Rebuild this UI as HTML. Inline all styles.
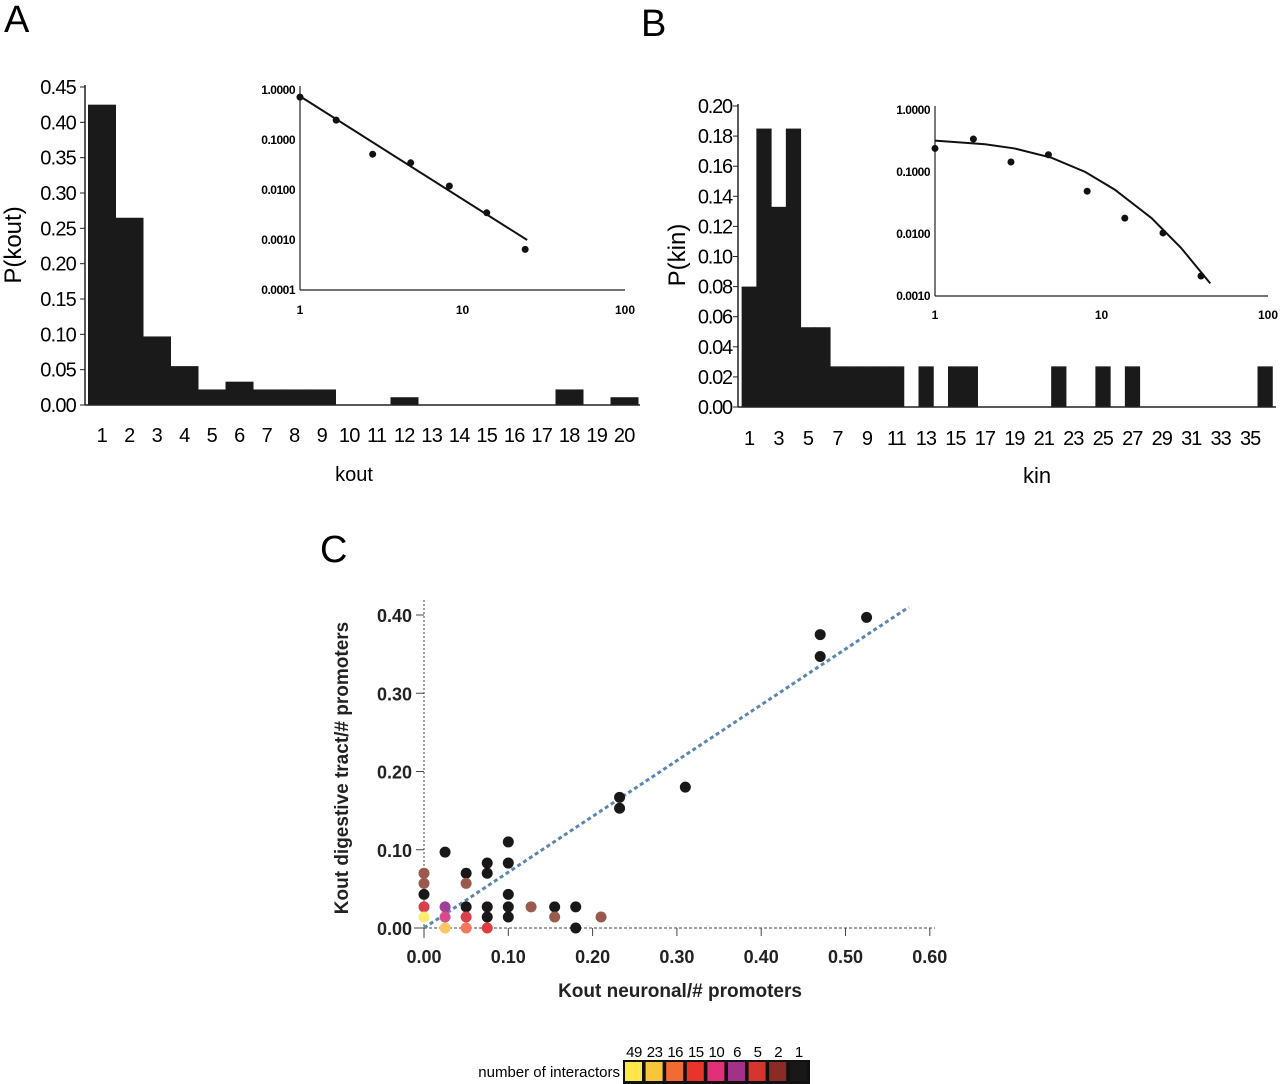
<!DOCTYPE html>
<html><head><meta charset="utf-8"><style>
html,body{margin:0;padding:0;background:#fff;}
svg{display:block;font-family:"Liberation Sans",Arial,sans-serif;}
</style></head><body>
<svg id="fig" width="1280" height="1084" viewBox="0 0 1280 1084" xmlns="http://www.w3.org/2000/svg">
<text x="4" y="32" font-size="38">A</text>
<text x="641" y="36" font-size="38">B</text>
<text x="320" y="562" font-size="38">C</text>
<g id="gA"></g>
<g id="gAi"></g>
<g id="gB"></g>
<g id="gBi"></g>
<g id="gC"></g>
<g id="gL"></g>
</svg>
<script>
// ---- data ----
const koutBins = [1,2,3,4,5,6,7,8,9,10,11,12,13,14,15,16,17,18,19,20];
const koutP = [0.425,0.265,0.097,0.055,0.022,0.033,0.022,0.022,0.022,0,0,0.011,0,0,0,0,0,0.022,0,0.011];
const koutTicks = [0,0.05,0.10,0.15,0.20,0.25,0.30,0.35,0.40,0.45];
const insetAx = [1,1.67,2.8,4.8,8.3,14.1,24.3];
const insetAy = [0.72,0.25,0.052,0.035,0.012,0.0035,0.00065];
const insetAfitX = [1,25];
const insetAfitY = [0.75,0.001];
const kinP = [0.08,0.185,0.133,0.185,0.053,0.053,0.027,0.027,0.027,0.027,0.027,0,0.027,0,0.027,0.027,0,0,0,0,0,0.027,0,0,0.027,0,0.027,0,0,0,0,0,0,0,0,0.027];
const kinTicksY = [0,0.02,0.04,0.06,0.08,0.10,0.12,0.14,0.16,0.18,0.20];
const kinLabels = [1,3,5,7,9,11,13,15,17,19,21,23,25,27,29,31,33,35];
const insetBx = [1,1.7,2.86,4.8,8.2,13.8,23.4,39.6];
const insetBy = [0.24,0.34,0.145,0.19,0.049,0.018,0.0104,0.0021];
const insetBfitX = [1,2,3,5,8,12,20,30,45];
const insetBfitY = [0.32,0.28,0.24,0.17,0.1,0.052,0.018,0.006,0.0016];
const scX = [0.525,0.47,0.47,0.31,0.232,0.232,0.1,0.1,0.1,0.1,0.1,0.075,0.075,0.075,0.075,0.075,0.05,0.05,0.05,0.05,0.05,0.025,0.025,0.025,0.025,0,0,0,0,0,0.127,0.155,0.155,0.18,0.18,0.21];
const scY = [0.397,0.375,0.347,0.18,0.167,0.153,0.11,0.083,0.043,0.027,0.014,0.083,0.07,0.027,0.014,0,0.07,0.057,0.027,0.014,0,0.097,0.027,0.014,0,0.07,0.057,0.043,0.027,0.014,0.027,0.027,0.014,0.027,0,0.014];
const scN = [1,1,1,1,1,1,1,1,1,1,1,1,1,1,1,15,1,2,1,5,16,1,6,10,23,2,2,1,5,49,2,1,2,1,1,2];
const legendN = [49,23,16,15,10,6,5,2,1];
const legendColors = ["#fde64b","#f9c53a","#f26b32","#e8342b","#e12f78","#a3318a","#d4362f","#8a2c25","#1a1718"];
const pointColors = ["#fbeb70","#fbc865","#f4775a","#e33a3f","#d84a8c","#a0409a","#d8404a","#9b5a4e","#1a1718"];
const fitX = [0,0.575];
const fitY = [0,0.41];
const cTicksX = [0,0.1,0.2,0.3,0.4,0.5,0.6];
const cTicksY = [0,0.1,0.2,0.3,0.4];
// ---- helpers ----
const NS="http://www.w3.org/2000/svg";
function mk(p,t,a,txt){const e=document.createElementNS(NS,t);for(const k in a)e.setAttribute(k,a[k]);if(txt!==undefined)e.textContent=txt;p.appendChild(e);return e;}
// ---- Panel A ----
(function(){
 const g=document.getElementById('gA');
 const x0=88,bw=27.5,yA=v=>405-v*(318/0.45);
 koutP.forEach((v,i)=>{const b=mk(g,'rect',{x:x0+i*bw,y:yA(v),width:bw+0.5,height:405-yA(v),fill:'#1a1a1a'});
 
 });
 mk(g,'line',{x1:85,y1:85,x2:85,y2:405,stroke:'#222','stroke-width':1.5});
 mk(g,'line',{x1:85,y1:405,x2:640,y2:405,stroke:'#222','stroke-width':1.5});
 koutTicks.forEach(t=>{mk(g,'line',{x1:80,x2:85,y1:yA(t),y2:yA(t),stroke:'#222'});
  const l=mk(g,'text',{x:76,y:yA(t)+7,'font-size':20,'text-anchor':'end','letter-spacing':'-0.8'},t.toFixed(2));
  
  });
 koutBins.forEach((b,i)=>{const l=mk(g,'text',{x:x0+i*bw+bw/2,y:442,'font-size':20,'text-anchor':'middle','letter-spacing':'-0.8'},b);
  
  });
 const xt=mk(g,'text',{x:354,y:481,'font-size':20,'text-anchor':'middle'},'kout');
 
 const yt=mk(g,'text',{x:0,y:0,'font-size':24,'text-anchor':'middle',transform:'translate(21,245) rotate(-90)'},'P(kout)');
 
})();
function logInset(g,px0,px1,py0,yDec,yLabels,xs,ys,fx,fy,labelY){
 const X=v=>px0+Math.log10(v)*(px1-px0)/2, Y=v=>py0-Math.log10(v)*yDec;
 const yBottom=Y(yLabels[yLabels.length-1]);
 mk(g,'line',{x1:px0,y1:py0-4,x2:px0,y2:yBottom,stroke:'#222','stroke-width':1.2});
 mk(g,'line',{x1:px0,y1:yBottom,x2:px1,y2:yBottom,stroke:'#222','stroke-width':1.2});
 yLabels.forEach(v=>{mk(g,'text',{x:px0-5,y:Y(v)+4,'font-size':12,'text-anchor':'end','font-weight':'bold','letter-spacing':'-0.5'},v.toFixed(4));});
 [1,10,100].forEach(v=>{mk(g,'text',{x:X(v),y:labelY,'font-size':12,'text-anchor':'middle','font-weight':'bold'},v);});
 let d='';fx.forEach((v,i)=>{d+=(i?'L':'M')+X(v)+','+Y(fy[i]);});
 mk(g,'path',{d:d,fill:'none',stroke:'#111','stroke-width':2});
 xs.forEach((v,i)=>{const c=mk(g,'circle',{cx:X(v),cy:Y(ys[i]),r:3.5,fill:'#111'});
  
  });
}
logInset(document.getElementById('gAi'),300,625,90,50,[1,0.1,0.01,0.001,0.0001],insetAx,insetAy,insetAfitX,insetAfitY,314);
// ---- Panel B ----
(function(){
 const g=document.getElementById('gB');
 const bw=14.74,cx=i=>749+i*bw,yB=v=>407-v*(301/0.2);
 kinP.forEach((v,i)=>{const b=mk(g,'rect',{x:cx(i)-bw/2,y:yB(v),width:bw+0.5,height:407-yB(v),fill:'#1a1a1a'});
 
 });
 mk(g,'line',{x1:738,y1:104,x2:738,y2:407,stroke:'#222','stroke-width':1.5});
 mk(g,'line',{x1:738,y1:407,x2:1276,y2:407,stroke:'#222','stroke-width':1.5});
 kinTicksY.forEach(t=>{mk(g,'line',{x1:733,x2:738,y1:yB(t),y2:yB(t),stroke:'#222'});
  const l=mk(g,'text',{x:732,y:yB(t)+7,'font-size':20,'text-anchor':'end','letter-spacing':'-1.2'},t.toFixed(2));
  
  });
 kinLabels.forEach(b=>{const l=mk(g,'text',{x:cx(b-1),y:445,'font-size':20,'text-anchor':'middle','letter-spacing':'-1'},b);
  
  });
 const xt=mk(g,'text',{x:1037,y:483,'font-size':22,'text-anchor':'middle'},'kin');
 
 const yt=mk(g,'text',{x:0,y:0,'font-size':24,'text-anchor':'middle',transform:'translate(685,255) rotate(-90)'},'P(kin)');
 
})();
logInset(document.getElementById('gBi'),935,1268,110,62,[1,0.1,0.01,0.001],insetBx,insetBy,insetBfitX,insetBfitY,319);
// ---- Panel C ----
(function(){
 const g=document.getElementById('gC');
 const X=v=>424+v*843,Y=v=>928-v*782.5;
 mk(g,'line',{x1:X(0),y1:600,x2:X(0),y2:938,stroke:'#444','stroke-dasharray':'2,2'});
 mk(g,'line',{x1:414,y1:Y(0),x2:935,y2:Y(0),stroke:'#444','stroke-dasharray':'3,2'});
 cTicksY.forEach(t=>{mk(g,'line',{x1:416,x2:424,y1:Y(t),y2:Y(t),stroke:'#444'});
  const l=mk(g,'text',{x:412,y:Y(t)+7,'font-size':18,'text-anchor':'end','font-weight':'bold','fill':'#222'},t.toFixed(2));
  });
 cTicksX.forEach(t=>{mk(g,'line',{x1:X(t),x2:X(t),y1:928,y2:936,stroke:'#444'});
  const l=mk(g,'text',{x:X(t),y:963,'font-size':18,'text-anchor':'middle','font-weight':'bold','fill':'#222'},t.toFixed(2));
  });
 mk(g,'line',{x1:X(fitX[0]),y1:Y(fitY[0]),x2:X(fitX[1]),y2:Y(fitY[1]),stroke:'#5b86b0','stroke-width':3,'stroke-dasharray':'4,3'});
 scX.forEach((v,i)=>{const ci=legendN.indexOf(scN[i]);
  const c=mk(g,'circle',{cx:X(v),cy:Y(scY[i]),r:5.5,fill:pointColors[ci<0?8:ci]});
  
  });
 const xt=mk(g,'text',{x:680,y:997,'font-size':19,'text-anchor':'middle','font-weight':'bold','fill':'#222'},'Kout neuronal/# promoters');
 
 const yt=mk(g,'text',{x:0,y:0,'font-size':19,'text-anchor':'middle','font-weight':'bold','fill':'#222',transform:'translate(348,768) rotate(-90)'},'Kout digestive tract/# promoters');
 
})();
// ---- Legend ----
(function(){
 const g=document.getElementById('gL');
 mk(g,'rect',{x:623,y:1060,width:187,height:24,fill:'#111'});
 legendN.forEach((n,i)=>{const x=625+i*20.6;
  const r=mk(g,'rect',{x:x,y:1062,width:17,height:19,fill:legendColors[i]});
  
  
  mk(g,'text',{x:x+9,y:1057,'font-size':15,'text-anchor':'middle','letter-spacing':'-0.5'},n);});
 const t=mk(g,'text',{x:620,y:1077,'font-size':15,'text-anchor':'end'},'number of interactors');
 
})();
</script>
</body></html>
